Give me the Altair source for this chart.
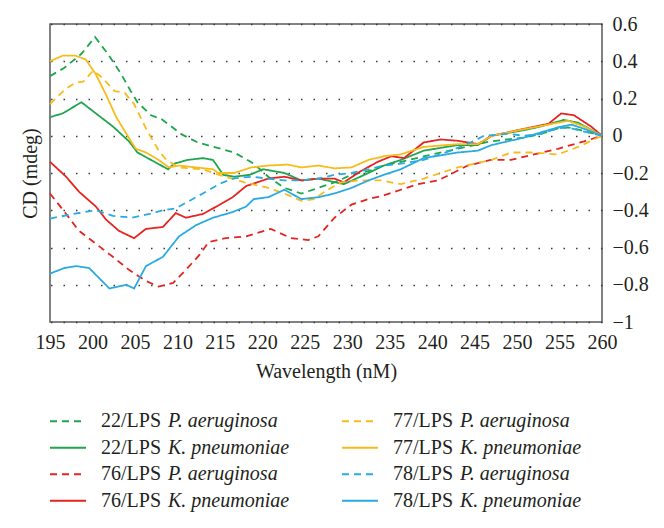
import altair as alt
import pandas as pd

# ---------------- data ----------------
names = ["22/LPS P. aeruginosa", "22/LPS K. pneumoniae",
         "76/LPS P. aeruginosa", "76/LPS K. pneumoniae",
         "77/LPS P. aeruginosa", "77/LPS K. pneumoniae",
         "78/LPS P. aeruginosa", "78/LPS K. pneumoniae"]
prefixes = ["22/LPS", "22/LPS", "76/LPS", "76/LPS", "77/LPS", "77/LPS", "78/LPS", "78/LPS"]
species = ["P. aeruginosa", "K. pneumoniae"] * 4
colors = ["#1fa54e", "#1fa54e", "#e52421", "#e52421",
          "#f7bc1c", "#f7bc1c", "#29abe2", "#29abe2"]
dashed = [True, False, True, False, True, False, True, False]
legend_col = [0, 0, 0, 0, 1, 1, 1, 1]
legend_row = [0, 1, 2, 3, 0, 1, 2, 3]

w22P = [195, 196.7, 198.7, 200.3, 201.8, 203.4, 204.5, 205.3, 206.9, 208.1, 209.3, 210.4, 212.4,
        215.1, 216.7, 219, 220.7, 222.6, 224.6, 226.6, 228.5, 230.5, 232.5, 234.3, 236.3, 239.1,
        243, 246.9, 250.8, 252.8, 254.8, 256, 257.5, 260]
v22P = [0.32, 0.365, 0.44, 0.53, 0.44, 0.33, 0.24, 0.18, 0.11, 0.09, 0.05, 0.01, -0.036,
        -0.07, -0.09, -0.15, -0.22, -0.28, -0.31, -0.28, -0.25, -0.21, -0.19, -0.16, -0.14, -0.11,
        -0.07, -0.03, -0.01, 0.01, 0.04, 0.045, 0.03, 0.0]

w22K = [195, 196.5, 198.7, 200.4, 202.4, 204.3, 205.3, 207.3, 208.9, 209.6, 211.2, 213, 214.2, 215.4,
        216.7, 218.5, 220.1, 222.6, 224.6, 226.6, 229.6, 232.5, 234.3, 236.3, 239, 243, 245.4,
        247, 250.8, 252.8, 255.5, 257.2, 260]
v22K = [0.10, 0.12, 0.18, 0.12, 0.05, -0.03, -0.09, -0.14, -0.18, -0.15, -0.13, -0.12, -0.13, -0.21,
        -0.22, -0.21, -0.18, -0.20, -0.24, -0.23, -0.26, -0.20, -0.16, -0.13, -0.08, -0.05, -0.05,
        0.0, 0.03, 0.05, 0.085, 0.07, 0.0]

w76P = [195, 196.9, 198.4, 200.4, 202.4, 204.3, 206.3, 207.8, 209.5, 211, 212.6, 213.7, 215.7,
        218.1, 221, 223.4, 225.4, 226.6, 228.5, 230.5, 232.5, 234.3, 236.3, 238.3, 240.7, 244.2,
        246.9, 249.3, 252, 254.8, 257.9, 260]
v76P = [-0.31, -0.42, -0.51, -0.58, -0.65, -0.72, -0.78, -0.81, -0.79, -0.72, -0.64, -0.57, -0.55,
        -0.54, -0.50, -0.55, -0.56, -0.54, -0.44, -0.37, -0.34, -0.32, -0.29, -0.26, -0.24, -0.16,
        -0.13, -0.13, -0.10, -0.07, -0.03, 0.0]

w76K = [195, 196.9, 198.4, 200.4, 201.6, 203.1, 204.9, 206.3, 208.3, 209.8, 211, 213, 214.6,
        216.5, 218.1, 220.7, 222.6, 224.6, 226.6, 228.5, 229.6, 231.6, 233.6, 235.2, 236.7, 239,
        241, 243, 245.4, 247, 248.9, 250.8, 253.7, 255.2, 256.7, 258.7, 260]
v76K = [-0.14, -0.22, -0.30, -0.38, -0.45, -0.51, -0.55, -0.50, -0.49, -0.415, -0.44, -0.42, -0.38,
        -0.33, -0.27, -0.23, -0.22, -0.24, -0.23, -0.23, -0.25, -0.19, -0.14, -0.11, -0.12, -0.036,
        -0.02, -0.027, -0.045, 0.0, 0.018, 0.037, 0.064, 0.12, 0.11, 0.05, 0.0]

w77P = [195, 196.8, 198, 198.9, 200.1, 201.2, 202.6, 203.8, 204.9, 206.4, 207.8, 208.7, 210.2,
        213, 214.9, 217.9, 220.7, 222.6, 224.6, 226.1, 227.7, 229.3, 231.3, 234, 236.3, 239, 243,
        247, 249.3, 251.7, 254.8, 257.2, 260]
v77P = [0.17, 0.25, 0.285, 0.29, 0.35, 0.31, 0.24, 0.23, 0.17, 0.03, -0.08, -0.13, -0.17,
        -0.18, -0.21, -0.25, -0.28, -0.31, -0.35, -0.34, -0.29, -0.25, -0.24, -0.24, -0.26, -0.23,
        -0.17, -0.13, -0.09, -0.09, -0.10, -0.06, 0.0]

w77K = [195, 196.5, 198, 199.2, 200.4, 201.6, 202.8, 204, 205.1, 206.3, 207.8, 209, 210.2, 212.2,
        214.2, 214.8, 216.7, 218.7, 220.7, 223, 224.6, 226.6, 228.5, 230.5, 232.5, 234.3, 236.3,
        239, 243, 245.4, 247, 250.8, 253.7, 256, 257.9, 260]
v77K = [0.40, 0.43, 0.43, 0.41, 0.33, 0.22, 0.10, 0.01, -0.07, -0.09, -0.13, -0.17, -0.16, -0.17,
        -0.18, -0.20, -0.20, -0.17, -0.16, -0.155, -0.17, -0.16, -0.175, -0.17, -0.13, -0.11, -0.10,
        -0.06, -0.045, -0.045, 0.0, 0.035, 0.06, 0.08, 0.05, 0.0]

w78P = [195, 197.7, 200.4, 202.4, 204.7, 206.7, 208.3, 209.8, 211, 213, 214.9, 216.5, 218.7,
        222.6, 224.6, 226.6, 228.5, 230.5, 232.5, 234.3, 236.3, 239, 242.2, 245, 246.1, 248.9,
        250.8, 252.8, 254.8, 256, 257.5, 260]
v78P = [-0.445, -0.42, -0.40, -0.43, -0.44, -0.42, -0.40, -0.39, -0.36, -0.31, -0.26, -0.23, -0.22,
        -0.24, -0.24, -0.23, -0.21, -0.20, -0.18, -0.16, -0.15, -0.13, -0.08, -0.027, 0.0, 0.01,
        0.0, 0.01, 0.04, 0.045, 0.027, 0.0]

w78K = [195, 196.7, 198.1, 199.6, 202, 204, 204.9, 206.3, 208.3, 210.2, 212.2, 214.2, 216.5,
        218.1, 219, 220.7, 222.6, 224.6, 226.6, 228.5, 230.5, 232.5, 234.3, 236.3, 239, 243, 245.4,
        247, 250.8, 252.8, 254.8, 256.4, 257.9, 260]
v78K = [-0.74, -0.71, -0.70, -0.71, -0.82, -0.80, -0.82, -0.70, -0.65, -0.54, -0.48, -0.44, -0.41,
        -0.38, -0.34, -0.33, -0.29, -0.34, -0.33, -0.31, -0.28, -0.24, -0.21, -0.18, -0.12, -0.09,
        -0.08, -0.05, -0.01, 0.018, 0.045, 0.06, 0.037, 0.0]

x_ticks = list(range(195, 261, 5))
y_ticks = [-1, -0.8, -0.6, -0.4, -0.2, 0, 0.2, 0.4, 0.6]

# ---------------- tables ----------------
series_w = [w22P, w22K, w76P, w76K, w77P, w77K, w78P, w78K]
series_v = [v22P, v22K, v76P, v76K, v77P, v77K, v78P, v78K]
rows = []
for name, ws, vs in zip(names, series_w, series_v):
    for w, v in zip(ws, vs):
        rows.append({"series": name, "w": w, "v": v})
df = pd.DataFrame(rows)

leg_df = pd.DataFrame({"series": names, "prefix": prefixes, "species": species,
                       "col": legend_col, "row": legend_row})

FONT = "Liberation Serif, Times New Roman, DejaVu Serif, serif"
TXT = "#231f20"
dash_range = [[7, 5] if d else [1, 0] for d in dashed]

color_enc = alt.Color("series:N", scale=alt.Scale(domain=names, range=colors), legend=None)
dash_enc = alt.StrokeDash("series:N", scale=alt.Scale(domain=names, range=dash_range), legend=None)

x_enc = alt.X("w:Q", scale=alt.Scale(domain=[195, 260], nice=False),
              axis=alt.Axis(values=x_ticks, title="Wavelength (nM)", ticks=False, domain=False,
                            grid=False, labelFont=FONT, labelFontSize=20, labelColor=TXT,
                            labelPadding=10, titleFont=FONT, titleFontSize=20,
                            titleFontWeight="normal", titleColor=TXT, titlePadding=9,
                            labelFlush=False, labelOverlap=False))
y_scale = alt.Scale(domain=[-1, 0.6], nice=False, zero=False)

lines = alt.Chart(df).mark_line(strokeWidth=1.8).encode(
    x=x_enc,
    y=alt.Y("v:Q", scale=y_scale,
            axis=alt.Axis(orient="right", values=y_ticks, title=None, ticks=False, domain=False,
                          labelFont=FONT, labelFontSize=20, labelColor=TXT, labelPadding=10,
                          labelFlush=False, labelOverlap=False,
                          labelExpr="abs(datum.value) < 1e-9 ? '0' : replace(format(datum.value, '.1~f'), '-', '\u2212')",
                          grid=True, gridColor="#3a3a3a", gridWidth=1.5, gridDash=[1.5, 11])),
    color=color_enc,
    strokeDash=dash_enc,
)

ytitle = alt.Chart(df).mark_line(opacity=0).encode(
    x=x_enc,
    y=alt.Y("v:Q", scale=y_scale,
            axis=alt.Axis(orient="left", title="CD (mdeg)", labels=False, ticks=False,
                          domain=False, grid=False, titleFont=FONT, titleFontSize=20,
                          titleFontWeight="normal", titleColor=TXT, titlePadding=10)),
    detail="series:N",
)

main = alt.layer(ytitle, lines).resolve_axis(y="independent").properties(
    width=552, height=298,
    view=alt.ViewBackground(stroke="#5a5a5a", strokeWidth=1.5),
)

leg_base = alt.Chart(leg_df).encode(
    x=alt.X("col:Q", scale=alt.Scale(domain=[0, 1], range=[18, 310]), axis=None),
    y=alt.Y("row:O", axis=None),
)
leg_sym = leg_base.mark_point(shape="M-1,0L1,0", size=1296, filled=False, strokeWidth=2,
                              opacity=1).encode(color=color_enc, strokeDash=dash_enc)
leg_pre = leg_base.mark_text(align="left", baseline="middle", dx=33, font=FONT, fontSize=20,
                             color=TXT).encode(text="prefix:N")
leg_sp = leg_base.mark_text(align="left", baseline="middle", dx=100, font=FONT, fontSize=20,
                            fontStyle="italic", color=TXT).encode(text="species:N")
legend = alt.layer(leg_sym, leg_pre, leg_sp).properties(
    width=560, height=106,
    view=alt.ViewBackground(strokeWidth=0),
)

chart = alt.vconcat(main, legend, spacing=26).properties(
    padding={"left": 11, "top": 5, "right": 5, "bottom": 5},
    background="white",
)

chart.save("out.html", embed_options={"renderer": "svg", "actions": False})
